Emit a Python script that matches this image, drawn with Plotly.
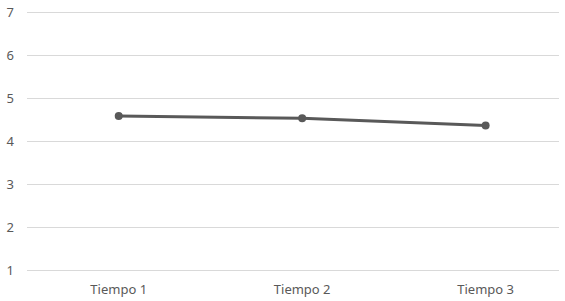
import plotly.graph_objects as go

categories = ["Tiempo 1", "Tiempo 2", "Tiempo 3"]
values = [4.59, 4.54, 4.37]
y_ticks = [1, 2, 3, 4, 5, 6, 7]

fig = go.Figure()
fig.add_trace(go.Scatter(
    x=categories, y=values, mode="lines+markers",
    line=dict(color="#595959", width=3),
    marker=dict(color="#595959", size=8),
    showlegend=False,
))
fig.update_layout(
    width=565, height=301,
    margin=dict(l=27, r=6, t=10, b=28),
    paper_bgcolor="white", plot_bgcolor="white",
    font=dict(family="Noto Sans, Open Sans, sans-serif", size=13, color="#595959"),
)
fig.update_xaxes(
    type="category", range=[-0.5, 2.4], showgrid=False, zeroline=False,
    showline=False, ticks="", ticklabelstandoff=7, automargin=False,
    tickfont=dict(size=13, color="#595959"),
)
fig.update_yaxes(
    range=[0.95, 7.05], tickvals=y_ticks, showgrid=True, gridcolor="#d9d9d9", gridwidth=1,
    zeroline=False, showline=False, ticks="", ticklabelstandoff=12, automargin=False,
    tickfont=dict(size=13, color="#595959"),
)
fig.write_html("out.html", config={"displayModeBar": False},
               post_script="document.body.style.margin='0';")
